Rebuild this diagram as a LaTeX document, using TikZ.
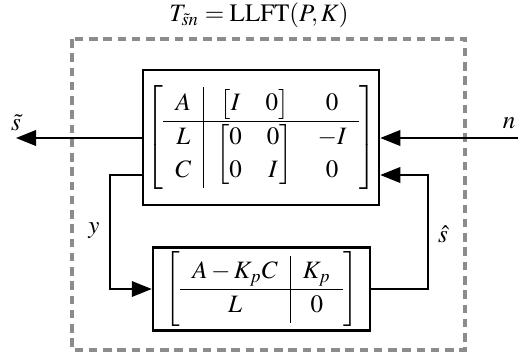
\documentclass[tikz,border=0pt]{standalone}
\usepackage{amsmath}
\usepackage{mathptmx}
\usepackage{fontspec}
\setmainfont{Liberation Serif}
\usetikzlibrary{arrows.meta}
\renewcommand{\arraystretch}{1.1}
\begin{document}
\begin{tikzpicture}[
	x=0.4pt, y=-0.4pt,
	blk/.style={draw, line width=1pt, inner sep=0pt},
	arr/.style={line width=0.85pt, -{Triangle[length=8pt, width=6.2pt]}},
	lbl/.style={inner sep=0pt},
	frame/.style={draw=black!45, line width=1.3pt, dash pattern=on 3.4pt off 2.3pt}
	]
	\useasboundingbox (0,0) rectangle (518,354);
	% title and dashed frame
	\node[lbl] (title) at (259,15) {$T_{\tilde{s}n} = \mathrm{LLFT}(P,K)$};
	\draw[frame] (72,39) rectangle (465,350);
	% plant P
	\node[blk, minimum width=94.4pt, minimum height=54pt] (P) at (261,137.5)
		{$\left[\begin{array}{c|cc}
			A & \begin{bmatrix} I & 0 \end{bmatrix} & 0 \\ \hline
			\begin{array}{@{}c@{}} L \\ C \end{array} &
			\begin{bmatrix} 0 & 0 \\ 0 & I \end{bmatrix} &
			\begin{array}{@{}c@{}} -I \\ 0 \end{array}
		\end{array}\right]$};
	% controller K
	\node[blk, minimum width=86.8pt, minimum height=33.2pt] (K) at (261.5,289)
		{$\left[\begin{array}{c|c}
			A - K_pC & K_p \\ \hline
			L & 0
		\end{array}\right]$};
	% outer signals
	\coordinate (out) at (16,138);
	\coordinate (in) at (518,138);
	\draw[arr] (P.west |- out) -- (out);
	\draw[arr] (in) -- (P.east |- in);
	\node[lbl] (stl) at (16,123) {$\tilde{s}$};
	\node[lbl] (nl) at (509,123) {$n$};
	% feedback loop
	\coordinate (yc) at (110,175);
	\coordinate (sc) at (428,175);
	\draw[arr] (P.west |- yc) -- (yc) |- (K.west);
	\draw[arr] (K.east) -| (sc) -- (P.east |- sc);
	\node[lbl] (yl) at (94,231) {$y$};
	\node[lbl] (shl) at (443,234) {$\hat{s}$};
\end{tikzpicture}
\end{document}
